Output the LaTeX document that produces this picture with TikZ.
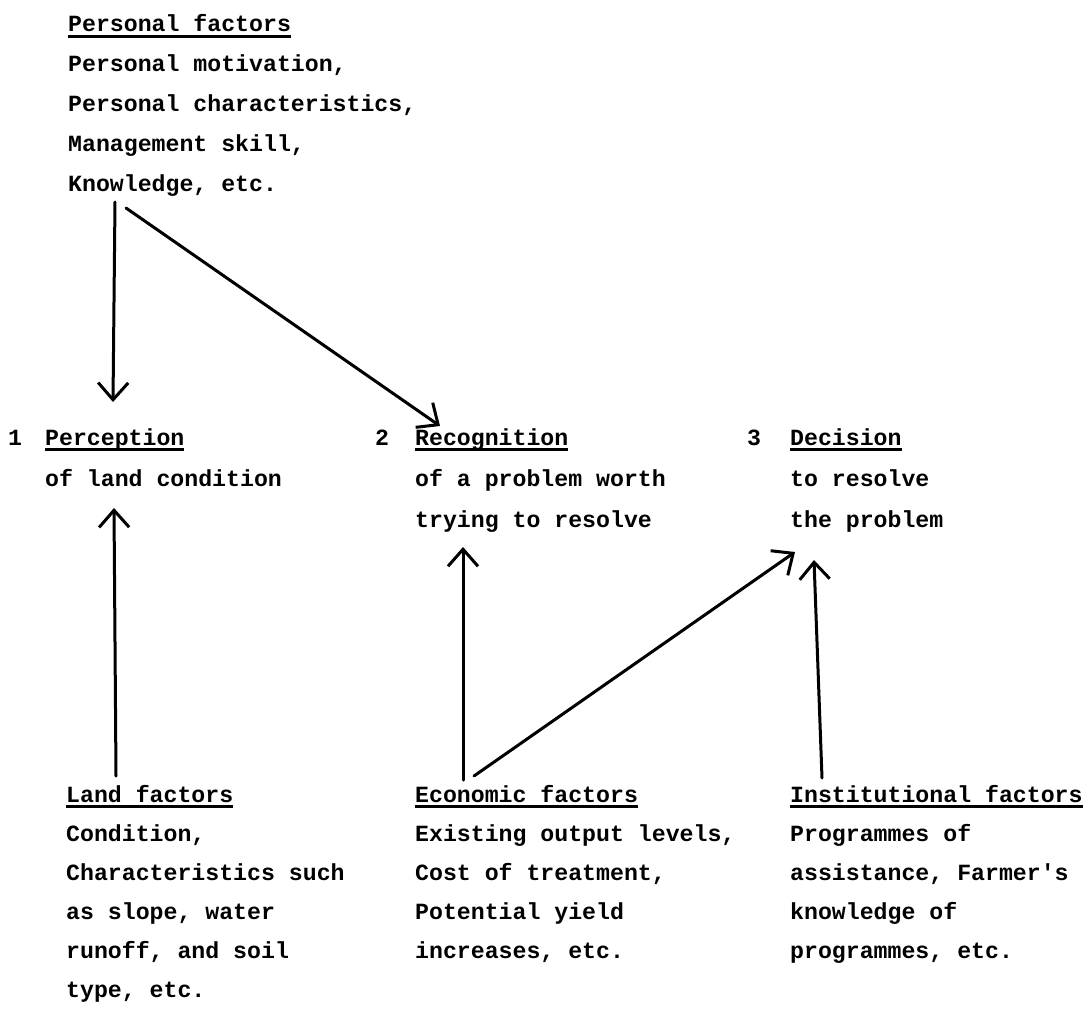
\documentclass[tikz,border=0pt]{standalone}
\usepackage{fontspec}
\setmonofont{Liberation Mono}
\usetikzlibrary{arrows.meta}
\newcommand\ulx[1]{\setbox0\hbox{#1}\rlap{\rule[-6pt]{\wd0}{2.6pt}}\box0}
\newcommand\blk[2][40pt]{\vtop{\baselineskip=#1\lineskiplimit=-100pt\lineskip=0pt\halign{##\hfil\cr#2\crcr}}}
\tikzset{
  txt/.style={anchor=base west, inner sep=0pt, font=\ttfamily\bfseries\fontsize{23.2}{40}\selectfont},
  num/.style={anchor=base, inner sep=0pt, font=\ttfamily\bfseries\fontsize{23.2}{40}\selectfont},
  arr/.style={line width=3pt, line cap=round, -{Straight Barb[length=17pt,width=30pt,line width=3pt]}}
}
\begin{document}
\begin{tikzpicture}[x=1pt,y=-1pt]
\useasboundingbox (0,0) rectangle (1091,1035);
% top block
\node[txt] (pers) at (68,32) {\blk[40pt]{\ulx{Personal factors}\cr Personal motivation,\cr Personal characteristics,\cr Management skill,\cr Knowledge, etc.}};
% middle row
\node[num] (n1) at (15,445) {1};
\node[txt] (perc) at (45,445) {\blk[41pt]{\ulx{Perception}\cr of land condition}};
\node[num] (n2) at (382,445) {2};
\node[txt] (reco) at (415,445) {\blk[41pt]{\ulx{Recognition}\cr of a problem worth\cr trying to resolve}};
\node[num] (n3) at (754,445) {3};
\node[txt] (deci) at (790,445) {\blk[41pt]{\ulx{Decision}\cr to resolve\cr the problem}};
% bottom row
\node[txt] (land) at (66,802) {\blk[39pt]{\ulx{Land factors}\cr Condition,\cr Characteristics such\cr as slope, water\cr runoff, and soil\cr type, etc.}};
\node[txt] (econ) at (415,802) {\blk[39pt]{\ulx{Economic factors}\cr Existing output levels,\cr Cost of treatment,\cr Potential yield\cr increases, etc.}};
\node[txt] (inst) at (790,802) {\blk[39pt]{\ulx{Institutional factors}\cr Programmes of\cr assistance, Farmer's\cr knowledge of\cr programmes, etc.}};
% connector end points
\coordinate (pA) at (115,202);
\coordinate (pB) at (126,208);
\coordinate (percTop) at (113,402);
\coordinate (recoTop) at (440,426);
\coordinate (landUp) at (116,776);
\coordinate (percBot) at (114,508);
\coordinate (econUp) at (463,780);
\coordinate (recoBot) at (463,547);
\coordinate (econDiag) at (474,776);
\coordinate (deciBotA) at (795,552);
\coordinate (instUp) at (822,778);
\coordinate (deciBotB) at (814,560);
% connectors
\draw[arr] (pA) -- (percTop);
\draw[arr] (pB) -- (recoTop);
\draw[arr] (landUp) -- (percBot);
\draw[arr] (econUp) -- (recoBot);
\draw[arr] (econDiag) -- (deciBotA);
\draw[arr] (instUp) -- (deciBotB);
\end{tikzpicture}
\end{document}
